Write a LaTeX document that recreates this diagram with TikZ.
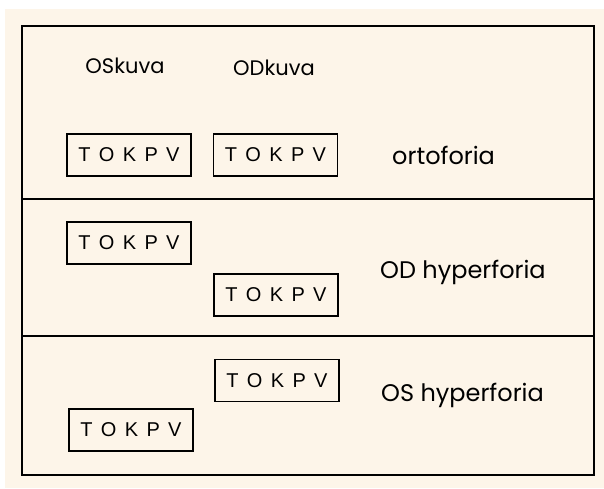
\documentclass[tikz,border=0pt]{standalone}
\usepackage{fontspec}
\setmainfont{Liberation Sans}
\newfontfamily\handfont{Poppins}
\newfontfamily\chartfont[WordSpace=1.5]{Liberation Sans}
\usetikzlibrary{positioning}
\definecolor{paper}{HTML}{FDF5E9}
\tikzset{
  chart/.style={draw,line width=1.2,minimum width=124,minimum height=42,
    inner sep=0,font=\chartfont\fontsize{20}{20}\selectfont},
  handtext/.style={inner sep=0,font=\handfont\fontsize{21}{21}\selectfont},
  rowtext/.style={handtext,anchor=west,font=\handfont\fontsize{24}{24}\selectfont}
}

\begin{document}
\begin{tikzpicture}[x=1pt,y=-1pt]
  % Paper
  \fill[white] (0,0) rectangle (604,489);
  \fill[paper] (5,9) rectangle (604,488);

  % Frame and row dividers
  \draw[line width=1.5] (22,26) rectangle (594,475);
  \draw[line width=1.5] (22,199) -- (594,199);
  \draw[line width=1.5] (22,336) -- (594,336);

  % Column headers
  \node[handtext] (oskuva) at (125,66) {OSkuva};
  \node[handtext] (odkuva) at (274,68) {ODkuva};

  % Ortoforia
  \node[chart] (orto-os) at (129,155) {T O K P V};
  \node[chart] (orto-od) at (275.5,155) {T O K P V};
  \node[rowtext] (orto) at (392,155) {ortoforia};

  % OD hyperforia
  \node[chart] (odh-os) at (129,243) {T O K P V};
  \node[chart] (odh-od) at (276,295) {T O K P V};
  \node[rowtext] (odh) at (380,272) {OD hyperforia};

  % OS hyperforia
  \node[chart] (osh-od) at (277,380.5) {T O K P V};
  \node[chart] (osh-os) at (131,430) {T O K P V};
  \node[rowtext] (osh) at (381,395) {OS hyperforia};
\end{tikzpicture}
\end{document}
